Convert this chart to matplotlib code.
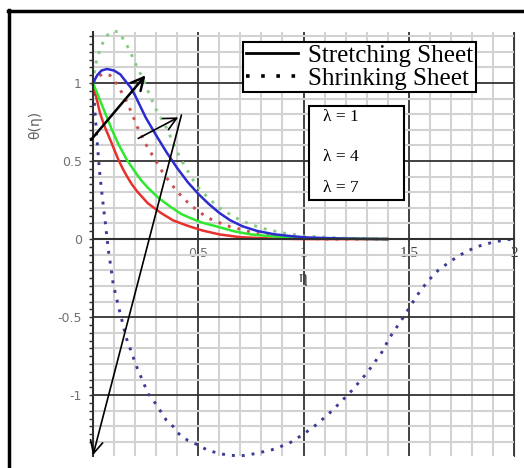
import numpy as np
import matplotlib.pyplot as plt
from matplotlib.lines import Line2D
from matplotlib.patches import Rectangle

# temperature profiles theta(eta) read at chosen eta values
eta_red_s = [0, 0.017, 0.033, 0.05, 0.065, 0.09, 0.12, 0.14, 0.16, 0.185, 0.21, 0.26, 0.32, 0.38, 0.45, 0.52, 0.6, 0.7,
             0.85, 1.0, 1.4]
th_red_s = [1.0, 0.9, 0.81, 0.74, 0.69, 0.61, 0.51, 0.455, 0.405, 0.35, 0.305, 0.23, 0.17, 0.12, 0.085, 0.055, 0.03,
            0.012, 0.003, 0.0, 0.0]

eta_grn_s = [0, 0.03, 0.06, 0.09, 0.12, 0.16, 0.2, 0.23, 0.26, 0.31, 0.37, 0.42, 0.48, 0.52, 0.59, 0.67, 0.75, 0.83,
             1.0, 1.4]
th_grn_s = [1.0, 0.9, 0.8, 0.7, 0.61, 0.51, 0.43, 0.375, 0.33, 0.265, 0.205, 0.16, 0.125, 0.105, 0.08, 0.05, 0.03, 0.02,
            0.005, 0.0]

eta_blu_s = [0, 0.02, 0.04, 0.067, 0.1, 0.13, 0.15, 0.18, 0.2, 0.25, 0.3, 0.35, 0.4, 0.45, 0.5, 0.55,
             0.6, 0.65, 0.71, 0.78, 0.86, 0.94, 1.02, 1.2, 1.4]
th_blu_s = [1.0, 1.05, 1.08, 1.09, 1.08, 1.055, 1.02, 0.97, 0.92, 0.78, 0.665, 0.555, 0.455, 0.365, 0.29, 0.225,
            0.168, 0.122, 0.082, 0.052, 0.031, 0.019, 0.01, 0.003, 0.0]

eta_red_d = [0, 0.02, 0.05, 0.08, 0.11, 0.15, 0.18, 0.21, 0.25, 0.29, 0.33, 0.37, 0.41, 0.45, 0.49, 0.53, 0.57, 0.61, 0.65,
             0.71, 0.76, 0.85, 0.95, 1.1, 1.4]
th_red_d = [1.0, 1.04, 1.06, 1.05, 1.0, 0.91, 0.82, 0.72, 0.61, 0.52, 0.43, 0.355, 0.29, 0.235, 0.19, 0.15, 0.12, 0.1,
            0.08, 0.06, 0.04, 0.02, 0.01, 0.0, 0.0]

eta_grn_d = [0, 0.01, 0.02, 0.035, 0.057, 0.085, 0.12, 0.14, 0.17, 0.19, 0.21, 0.24, 0.27, 0.3, 0.35, 0.38, 0.41, 0.44, 0.47,
             0.5, 0.55, 0.6, 0.7, 0.8, 0.9, 1.0, 1.2, 1.4]
th_grn_d = [1.0, 1.1, 1.16, 1.22, 1.29, 1.33, 1.33, 1.29, 1.22, 1.16, 1.1, 1.02, 0.92, 0.83, 0.71, 0.62, 0.53, 0.46, 0.39,
            0.33, 0.26, 0.2, 0.12, 0.07, 0.04, 0.02, 0.005, 0.0]

eta_blu_d = [0, 0.01, 0.02, 0.03, 0.04, 0.05, 0.06, 0.066, 0.075, 0.085, 0.095, 0.11, 0.128, 0.143, 0.157, 0.176, 0.205,
             0.23, 0.262, 0.285, 0.31, 0.348, 0.38, 0.40, 0.45, 0.5, 0.54, 0.6, 0.65, 0.70, 0.77, 0.85, 0.93, 1.0, 1.06,
             1.12, 1.18, 1.23, 1.30, 1.37, 1.41, 1.47, 1.54, 1.59, 1.64, 1.70, 1.76, 1.82, 1.90, 1.96, 2.0]
th_blu_d = [1.0, 0.8, 0.62, 0.45, 0.32, 0.2, 0.09, 0.01, -0.09, -0.18, -0.28, -0.37, -0.47, -0.55, -0.63, -0.70, -0.81,
            -0.89, -0.99, -1.03, -1.08, -1.16, -1.2, -1.24, -1.29, -1.32, -1.35, -1.375, -1.385, -1.39, -1.375, -1.35,
            -1.31, -1.25, -1.19, -1.12, -1.04, -0.97, -0.86, -0.73, -0.63, -0.51, -0.36, -0.27, -0.2, -0.14, -0.09,
            -0.05, -0.02, -0.005, 0.0]

xtick_vals = [0.5, 1, 1.5, 2]
xtick_text = ["0.5", "1", "1.5", "2"]
ytick_vals = [-1, -0.5, 0, 0.5, 1]
ytick_text = ["-1", "-0.5", "0", "0.5", "1"]
lam_text = ["\u03bb = 1", "\u03bb = 4", "\u03bb = 7"]

# arrows: (tail, head) in data coords
arrows = [((-0.01, 0.635), (0.25, 1.05), 1.8),
          ((0.215, 0.645), (0.405, 0.78), 1.2),
          ((0.42, 0.795), (0.0, -1.385), 1.2)]

W, H = 524, 468
fig = plt.figure(figsize=(W / 100, H / 100), dpi=100)
ax = fig.add_axes([93 / W, 1 - 456 / H, (514 - 93) / W, (456 - 32) / H])
ax.set_xlim(0, 2)
ax.set_ylim(-1.39, 1.327)

ax.set_xticks(np.arange(0, 2.01, 0.5))
ax.set_yticks(np.arange(-1, 1.01, 0.5))
ax.set_xticks(np.arange(0, 2.01, 0.1), minor=True)
ax.set_yticks(np.arange(-1.3, 1.31, 0.1), minor=True)
ax.grid(which='minor', color='#d2d2d2', lw=1.5)
ax.grid(which='major', color='#333333', lw=1.3)
ax.set_axisbelow(True)

ax.spines['top'].set_visible(False)
ax.spines['right'].set_color('#3a3a3a')
ax.spines['left'].set_position(('data', 0))
ax.spines['bottom'].set_position(('data', 0))
ax.spines['left'].set_color('#303030')
ax.spines['bottom'].set_color('#303030')
ax.spines['left'].set_linewidth(1.5)
ax.spines['bottom'].set_linewidth(1.5)

ax.tick_params(which='both', length=0)
ax.tick_params(axis='x', pad=6)
ax.tick_params(axis='y', pad=8)
ax.set_xticks(xtick_vals, xtick_text)
ax.set_yticks(ytick_vals, ytick_text)
for lab in ax.get_yticklabels():
    lab.set_color('#707070')
    lab.set_fontsize(9)
for lab, txt in zip(ax.get_xticklabels(), xtick_text):
    if txt == "0.5":
        lab.set_color('#707070')
        lab.set_fontsize(9)
    else:
        lab.set_color('#404040')
        lab.set_fontfamily('Liberation Serif')
        lab.set_fontsize(11)

# small ticks along the vertical axis
ax.plot(np.zeros(53), np.arange(-1.3, 1.31, 0.05), marker=0, ls='none', ms=3, color='#303030', mew=1, clip_on=False)

ls_dot = (0, (1, 2.4))
ax.plot(eta_red_d, th_red_d, color='#cc5050', lw=2.1, ls=ls_dot, clip_on=False)
ax.plot(eta_grn_d, th_grn_d, color='#84cc84', lw=2.1, ls=ls_dot, clip_on=False)
ax.plot(eta_blu_d, th_blu_d, color='#3c3c96', lw=2.1, ls=ls_dot, clip_on=False)
ax.plot(eta_red_s, th_red_s, color='#e8302c', lw=1.8)
ax.plot(eta_grn_s, th_grn_s, color='#2ee82e', lw=1.8)
ax.plot(eta_blu_s, th_blu_s, color='#2b2bd0', lw=1.8)

for (tail, head, lw) in arrows:
    ax.annotate('', xy=head, xytext=tail,
                arrowprops=dict(arrowstyle='->,head_length=0.9,head_width=0.45', color='black', lw=lw,
                                shrinkA=0, shrinkB=0), annotation_clip=False)

fig.text(303 / W, 1 - 278 / H, "\u03b7", ha='center', va='center', fontsize=12,
         family='Liberation Serif', color='#404040')
fig.text(35 / W, 1 - 125 / H, "\u03b8(\u03b7)", ha='center', va='center', rotation=90,
         fontsize=10, color='#606060')

handles = [Line2D([], [], color='black', lw=2),
           Line2D([], [], color='black', lw=2.6, ls=(0, (1, 3.2)))]
leg = ax.legend(handles, ["Stretching Sheet", "Shrinking Sheet"], loc='upper left',
                bbox_to_anchor=(243 / W, 1 - 42 / H), bbox_transform=fig.transFigure,
                prop={'family': 'Liberation Serif', 'size': 18}, frameon=True, fancybox=False,
                handlelength=2.1, handletextpad=0.4, borderpad=0.1, labelspacing=0.0,
                borderaxespad=0)
leg.get_frame().set_edgecolor('black')
leg.get_frame().set_linewidth(1.5)
leg.get_frame().set_alpha(1)

fig.add_artist(Rectangle((309 / W, 1 - 200 / H), 95 / W, 94 / H, transform=fig.transFigure,
                         facecolor='white', edgecolor='black', lw=1.5))
for txt, py in zip(lam_text, [117, 157, 188]):
    fig.text(323 / W, 1 - py / H, txt, ha='left', va='center', fontsize=12.5,
             family='Liberation Serif', color='black')

# outer frame
fig.add_artist(Line2D([8 / W, 1], [1 - 11 / H, 1 - 11 / H], transform=fig.transFigure, color='black', lw=2.5))
fig.add_artist(Line2D([9 / W, 9 / W], [0, 1 - 10 / H], transform=fig.transFigure, color='black', lw=2.5))

fig.savefig('out.png', dpi=100)
